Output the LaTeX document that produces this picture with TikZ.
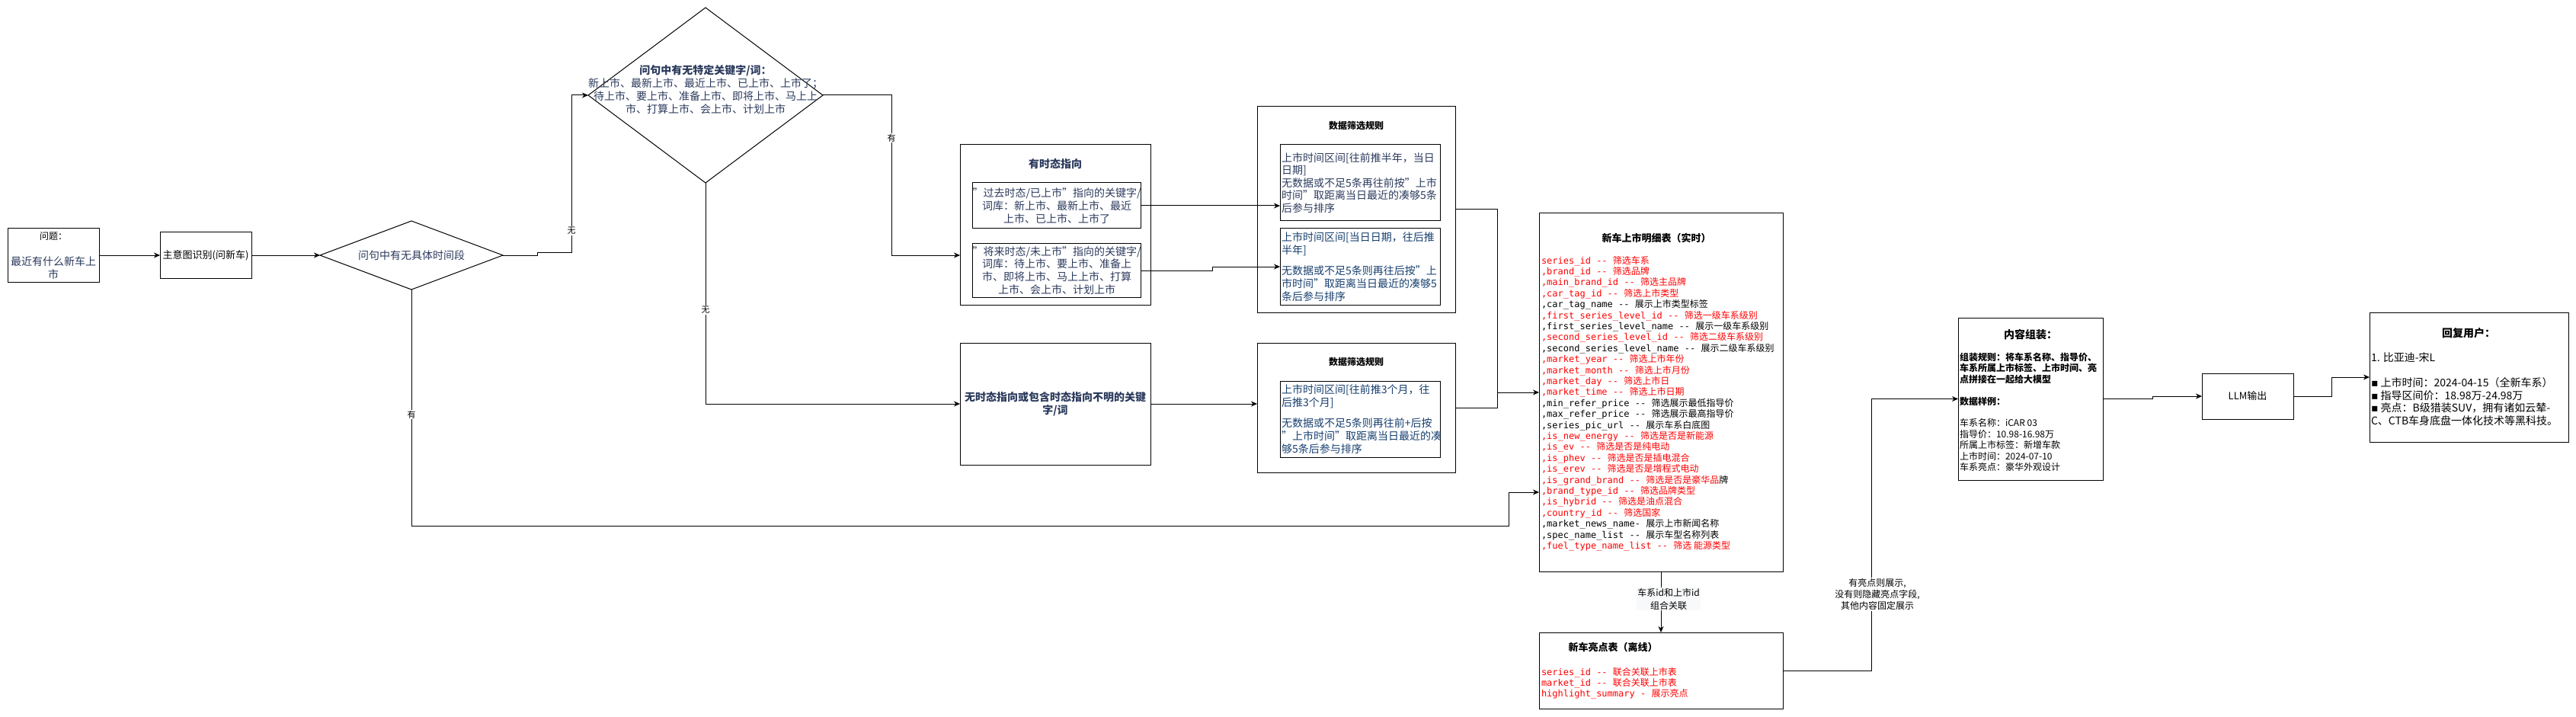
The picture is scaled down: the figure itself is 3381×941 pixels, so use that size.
\documentclass[tikz,border=0pt]{standalone}
\usepackage{fontspec}
\setmainfont{Noto Sans CJK SC}
\newfontfamily\codefont{DejaVu Sans Mono}
\newfontfamily\symfont{DejaVu Sans}
\usetikzlibrary{arrows.meta,shapes.geometric}
\definecolor{navy}{HTML}{2B3A5C}
\definecolor{ruleblue}{HTML}{173F6E}
\definecolor{lblgray}{HTML}{F8F9FA}
\newcommand\fs[2]{\fontsize{#1}{#2}\selectfont}
\newcommand\fld[3]{{\color{#1}{\codefont #2 }#3}}

\begin{document}
\begin{tikzpicture}[x = 1pt, y = -1pt, line width = 1pt, every node/.style = {inner sep = 0pt, outer sep = 0pt}, box/.style args = {#1x#2}{draw, rectangle, minimum width = #1pt, minimum height = #2pt}, diam/.style args = {#1x#2}{draw, diamond, minimum width = #1pt, minimum height = #2pt}, flow/.style = {-{Stealth[length = 8pt, width = 7pt, inset = 2.5pt]}}, tag/.style = {fill = white, inner sep = 1pt, font = \fs{11}{13}}, lbl/.style = {fill = lblgray, inner sep = 1pt, align = center, font = \fs{12}{17}}, head/.style = {font = \bfseries\fs{14}{16.8}}, says/.style = {align = center, text = navy, font = \fs{14}{16.8}}, rulebox/.style = {box = 210x100, align = left, text width = 206pt, inner xsep = 2pt, font = \fs{14}{16.6}}, code/.style = {anchor = north west, align = left, font = \fs{12}{14.4}}]
    \useasboundingbox (0,0) rectangle (3381,941);
        \node[box = 120x70] (q) at (70,335) {};
        \node[font = \fs{12}{14.4}] (qhead) at (70,310) {问题：};
        \node[says, font = \fs{14}{17}] (qtext) at (70,352) {最近有什么新车上\\市};
        \node[box = 120x60, font = \fs{13}{15.6}] (intent) at (270,335) {主意图识别(问新车)};
        \node[diam = 240x90] (d1) at (540,335) {};
        \node[says] (d1text) at (540,335) {问句中有无具体时间段};
        \node[diam = 308x230] (d2) at (926,125) {};
        \node[says, font = \fs{14}{17}] (d2text) at (926,117) {{\bfseries 问句中有无特定关键字/词：}\\新上市、最新上市、最近上市、已上市、上市了；\\待上市、要上市、准备上市、即将上市、马上上\\市、打算上市、会上市、计划上市};
        \node[box = 250x210] (tense) at (1385,295) {};
        \node[head, text = navy] (tensehead) at (1385,215) {有时态指向};
        \node[box = 210x60, says] (past) at (1387,270) {"过去时态/已上市"指向的关键字/\\词库：新上市、最新上市、最近\\上市、已上市、上市了};
        \node[box = 210x70, says] (future) at (1387,355) {"将来时态/未上市"指向的关键字/\\词库：待上市、要上市、准备上\\市、即将上市、马上上市、打算\\上市、会上市、计划上市};
        \node[box = 250x160, says, font = \bfseries\fs{14}{16.8}] (notense) at (1385,530) {无时态指向或包含时态指向不明的关键\\字/词};
        \node[box = 260x270] (rule1) at (1780,275) {};
        \node[font = \bfseries\fs{12}{14.4}] (rule1head) at (1780,165) {数据筛选规则};
        \node[rulebox, text = navy] (r1a) at (1785,240) {上市时间区间[往前推半年，当日\\日期]\\无数据或不足5条再往前按"上市\\时间"取距离当日最近的凑够5条\\后参与排序};
        \node[rulebox, text = ruleblue] (r1b) at (1785,350) {上市时间区间[当日日期，往后推\\半年]\\[11pt]无数据或不足5条则再往后按"上\\市时间"取距离当日最近的凑够5\\条后参与排序};
        \node[box = 260x170] (rule2) at (1780,535) {};
        \node[font = \bfseries\fs{12}{14.4}] (rule2head) at (1780,475) {数据筛选规则};
        \node[rulebox, text = ruleblue] (r2a) at (1785,550) {上市时间区间[往前推3个月，往\\后推3个月]\\[11pt]无数据或不足5条则再往前+后按\\"上市时间"取距离当日最近的凑\\够5条后参与排序};
        \node[box = 320x470] (detail) at (2180,515) {};
        \node[font = \bfseries\fs{13}{15.6}] (detailhead) at (2174,313) {新车上市明细表（实时）};
        \node[code] (detailrows) at (2023,336) {\fld{red}{series\_id --}{筛选车系}\\
            \fld{red}{,brand\_id --}{筛选品牌}\\
            \fld{red}{,main\_brand\_id --}{筛选主品牌}\\
            \fld{red}{,car\_tag\_id --}{筛选上市类型}\\
            \fld{black}{,car\_tag\_name --}{展示上市类型标签}\\
            \fld{red}{,first\_series\_level\_id --}{筛选一级车系级别}\\
            \fld{black}{,first\_series\_level\_name --}{展示一级车系级别}\\
            \fld{red}{,second\_series\_level\_id --}{筛选二级车系级别}\\
            \fld{black}{,second\_series\_level\_name --}{展示二级车系级别}\\
            \fld{red}{,market\_year --}{筛选上市年份}\\
            \fld{red}{,market\_month --}{筛选上市月份}\\
            \fld{red}{,market\_day --}{筛选上市日}\\
            \fld{red}{,market\_time --}{筛选上市日期}\\
            \fld{black}{,min\_refer\_price --}{筛选展示最低指导价}\\
            \fld{black}{,max\_refer\_price --}{筛选展示最高指导价}\\
            \fld{black}{,series\_pic\_url --}{展示车系白底图}\\
            \fld{red}{,is\_new\_energy --}{筛选是否是新能源}\\
            \fld{red}{,is\_ev --}{筛选是否是纯电动}\\
            \fld{red}{,is\_phev --}{筛选是否是插电混合}\\
            \fld{red}{,is\_erev --}{筛选是否是增程式电动}\\
            \fld{red}{,is\_grand\_brand --}{筛选是否是豪华品{\color{black}牌}}\\
            \fld{red}{,brand\_type\_id --}{筛选品牌类型}\\
            \fld{red}{,is\_hybrid --}{筛选是油点混合}\\
            \fld{red}{,country\_id --}{筛选国家}\\
            \fld{black}{,market\_news\_name-}{展示上市新闻名称}\\
            \fld{black}{,spec\_name\_list --}{展示车型名称列表}\\
            \fld{red}{,fuel\_type\_name\_list --}{筛选 能源类型}};
        \node[box = 320x100] (highlight) at (2180,880) {};
        \node[font = \bfseries\fs{13}{15.6}] (highlighthead) at (2117,850) {新车亮点表（离线）};
        \node[code] (highlightrows) at (2023,876) {\fld{red}{series\_id --}{联合关联上市表}\\
            \fld{red}{market\_id --}{联合关联上市表}\\
            \fld{red}{highlight\_summary -}{展示亮点}};
        \node[box = 190x213] (assemble) at (2665,523.5) {};
        \node[head] (assemblehead) at (2665,439) {内容组装：};
        \node[code] (assemblerows) at (2572,463) {{\bfseries 组装规则：将车系名称、指导价、}\\{\bfseries 车系所属上市标签、上市时间、亮}\\{\bfseries 点拼接在一起给大模型}\\[14.4pt]{\bfseries 数据样例：}\\[14.4pt]车系名称：iCAR 03\\指导价：10.98-16.98万\\所属上市标签：新增车款\\上市时间：2024-07-10\\车系亮点：豪华外观设计};
        \node[box = 120x60, font = \fs{13}{15.6}] (llm) at (2950,520) {LLM输出};
        \node[box = 261x170] (reply) at (3240.5,495) {};
        \node[head] (replyhead) at (3240,437) {回复用户：};
        \node[anchor = north west, align = left, font = \fs{14}{16.5}] (replyrows) at (3112,463) {1. 比亚迪-宋L\\[16.5pt]{\symfont ▪} 上市时间：2024-04-15（全新车系）\\{\symfont ▪} 指导区间价：18.98万-24.98万\\{\symfont ▪} 亮点：B级猎装SUV，拥有诸如云辇-\\C、CTB车身底盘一体化技术等黑科技。};

        \draw[flow] (q) -- (intent);
        \draw[flow] (intent) -- (d1);
        \draw[flow] (d1.east) -- ++(45,0) -- ++(0,-4) -- ++(45,0) |- (d2.west);
        \draw[flow] (d2.east) -- ++(90,0) |- ([yshift=-40pt]tense.west);
        \draw[flow] (d2.south) |- (notense.west);
        \draw[flow] (d1.south) -- ++(0,310) -- ++(1440,0) |- ([yshift=-131pt]detail.west);
        \draw[flow] (past) -- (past -| r1a.west);
        \draw[flow] (future.east) -- ++(94,0) |- (r1b.west);
        \draw[flow] (notense) -- (notense -| rule2.west);
        \draw[flow] (rule1.east) -- ++(55,0) |- (detail.west);
        \draw (rule2.east) -- ++(55,0) -- ++(0,-20);
        \draw[flow] (detail) -- node[lbl, pos = 0.45, xshift = 10pt] (link) {车系id和上市id\\组合关联} (highlight);
        \draw[flow] (highlight.east) -- ++(116,0) |- (assemble.west);
        \draw[flow] (assemble.east) -- ++(65,0) |- (llm.west);
        \draw[flow] (llm.east) -- ++(50,0) |- (reply.west);
        \node[tag] (no1) at (750,303) {无};
        \node[tag] (yes1) at (1170,181) {有};
        \node[tag] (no2) at (926,407) {无};
        \node[tag] (yes2) at (540,544) {有};
        \node[tag, align = center, font = \fs{12}{15}] (showrule) at (2464,780) {有亮点则展示,\\没有则隐藏亮点字段,\\其他内容固定展示};
    \end{tikzpicture}
\end{document}
